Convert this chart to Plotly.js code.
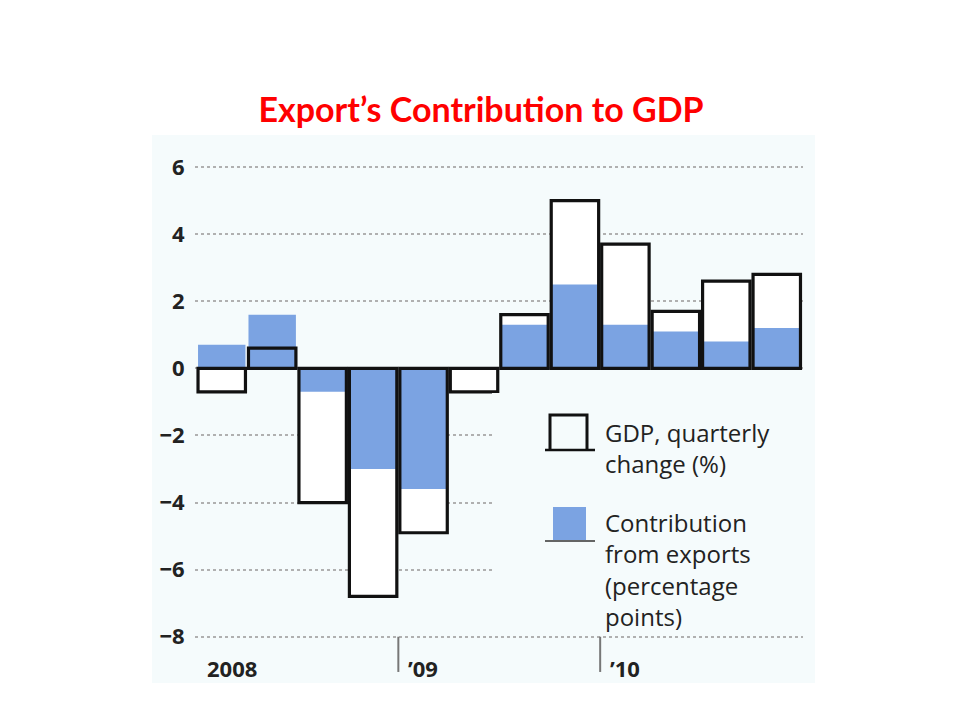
<!DOCTYPE html>
<html>
<head>
<meta charset="utf-8">
<script src="https://cdn.plot.ly/plotly-3.0.1.min.js"></script>
<style>html,body{margin:0;padding:0;background:#fff;}#chart{width:960px;height:720px;}</style>
</head>
<body>
<div id="chart"></div>
<script>
// ---- data ----
const quarters = ['2008 Q1','2008 Q2','2008 Q3','2008 Q4','2009 Q1','2009 Q2','2009 Q3','2009 Q4','2010 Q1','2010 Q2','2010 Q3','2010 Q4'];
const gdpChange = [-0.7, 0.6, -4.0, -6.8, -4.9, -0.7, 1.6, 5.0, 3.7, 1.7, 2.6, 2.8];
const exportContribution = [0.7, 1.6, -0.7, -3.0, -3.6, 0, 1.3, 2.5, 1.3, 1.1, 0.8, 1.2];
const yTickVals = [-8, -6, -4, -2, 0, 2, 4, 6];
const yearLabels = ['2008', '\u201909', '\u201910'];
const legendGdp = ['GDP, quarterly', 'change (%)'];
const legendExports = ['Contribution', 'from exports', '(percentage', 'points)'];
const titleText = 'Export\u2019s Contribution to GDP';

// ---- layout helpers ----
const W = 960, H = 720;
const M = {l: 195, r: 157, t: 157, b: 40};
const PW = W - M.l - M.r, PH = H - M.t - M.b;
const px = x => (x - M.l) / PW;
const py = y => (H - M.b - y) / PH;

const FONT = '"Open Sans", "Noto Sans", sans-serif';
const TXT = '#222222';
const BLUE = '#7ba3e2';
const PANEL = '#f5fbfc';
const idx = quarters.map((q, i) => i);

const traces = [
  {type: 'bar', x: idx, y: gdpChange, width: 0.94, marker: {color: '#ffffff', line: {width: 0}}, hoverinfo: 'skip', showlegend: false},
  {type: 'bar', x: idx, y: exportContribution, width: 0.94, marker: {color: BLUE, line: {width: 0}}, hoverinfo: 'skip', showlegend: false},
  {type: 'bar', x: idx, y: gdpChange, width: 0.94, marker: {color: 'rgba(0,0,0,0)', line: {width: 3.2, color: '#111111'}}, hoverinfo: 'skip', showlegend: false}
];

const shapes = [
  // panel background
  {type: 'rect', xref: 'paper', yref: 'paper', x0: px(152), x1: px(815), y0: py(683), y1: py(135), fillcolor: PANEL, line: {width: 0}, layer: 'below'},
  // legend backdrop hiding the gridlines behind the key
  {type: 'rect', xref: 'paper', yref: 'paper', x0: px(492), x1: px(806), y0: py(628), y1: py(393), fillcolor: PANEL, line: {width: 0}, layer: 'above'}
];
// year tick lines at year boundaries
const yearStarts = [];
quarters.forEach((q, i) => { if (i === 0 || q.slice(0, 4) !== quarters[i - 1].slice(0, 4)) yearStarts.push(i); });
const yMin = yTickVals[0];
yearStarts.slice(1).forEach(i => {
  shapes.push({type: 'line', xref: 'x', yref: 'y', x0: i - 0.5, x1: i - 0.5, y0: yMin, y1: yMin - 1.05, line: {color: '#777777', width: 2}});
});
// legend symbols
shapes.push(
  {type: 'path', xref: 'paper', yref: 'paper', path: `M ${px(550)} ${py(450)} L ${px(550)} ${py(415)} L ${px(587)} ${py(415)} L ${px(587)} ${py(450)}`, line: {color: '#111', width: 3}},
  {type: 'line', xref: 'paper', yref: 'paper', x0: px(545), x1: px(595), y0: py(450), y1: py(450), line: {color: '#111', width: 2.5}},
  {type: 'rect', xref: 'paper', yref: 'paper', x0: px(553), x1: px(586), y0: py(540), y1: py(507), fillcolor: BLUE, line: {width: 0}},
  {type: 'line', xref: 'paper', yref: 'paper', x0: px(545), x1: px(595), y0: py(541), y1: py(541), line: {color: '#333', width: 1.5}}
);

const annotations = [];
yearStarts.forEach((i, k) => {
  annotations.push({xref: 'x', yref: 'y', x: i - 0.5, y: yMin, xanchor: 'left', yanchor: 'middle', xshift: 8, yshift: -31, showarrow: false, text: yearLabels[k], font: {family: FONT, size: 22, color: TXT, weight: 700}});
});
legendGdp.forEach((t, k) => {
  annotations.push({xref: 'paper', yref: 'paper', x: px(603), y: py(432 + 31 * k), xanchor: 'left', yanchor: 'middle', showarrow: false, text: t, font: {family: FONT, size: 24, color: TXT}});
});
legendExports.forEach((t, k) => {
  annotations.push({xref: 'paper', yref: 'paper', x: px(603), y: py(522 + 31.5 * k), xanchor: 'left', yanchor: 'middle', showarrow: false, text: t, font: {family: FONT, size: 24, color: TXT}});
});

const layout = {
  width: W, height: H,
  margin: M,
  paper_bgcolor: '#ffffff',
  plot_bgcolor: 'rgba(0,0,0,0)',
  barmode: 'overlay',
  showlegend: false,
  title: {text: titleText, x: 481 / W, xref: 'container', xanchor: 'center', y: 1 - 110 / H, yref: 'container', yanchor: 'middle', font: {family: 'Lato, "Open Sans", sans-serif', size: 34, color: '#ff0000', weight: 700}},
  xaxis: {range: [-0.53, 11.52], showgrid: false, zeroline: false, showline: false, showticklabels: false, ticks: '', fixedrange: true},
  yaxis: {range: [-9.29, 6.3], tickvals: yTickVals, showgrid: true, gridcolor: '#b0b0b0', gridwidth: 2, griddash: 'dot', zeroline: false, showline: false, ticks: 'outside', ticklen: 5, tickcolor: 'rgba(0,0,0,0)', tickfont: {family: FONT, size: 22, color: TXT, weight: 700}, fixedrange: true},
  shapes: shapes,
  annotations: annotations
};

Plotly.newPlot('chart', traces, layout, {staticPlot: true, displayModeBar: false});
</script>
</body>
</html>
